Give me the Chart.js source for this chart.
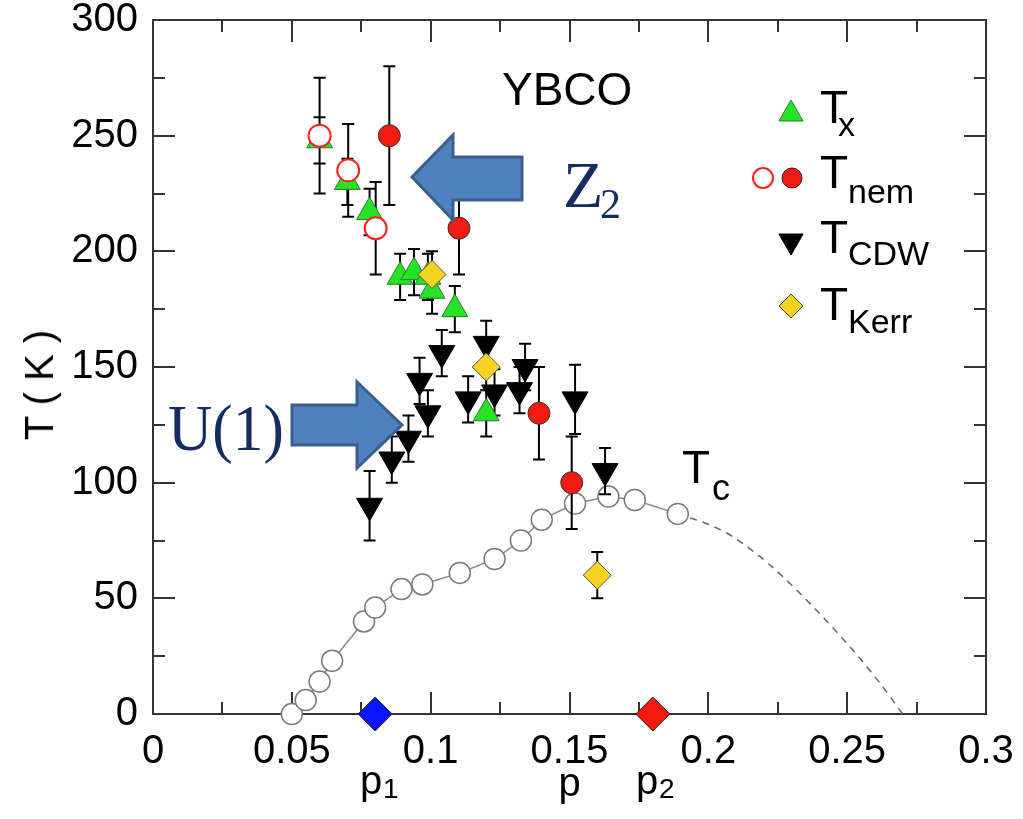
<!DOCTYPE html>
<html>
<head>
<meta charset="utf-8">
<script src="https://cdn.jsdelivr.net/npm/chart.js@4.4.1/dist/chart.umd.min.js"></script>
<style>
  body { margin: 0; background: #fff; }
  #wrap { position: relative; width: 1023px; height: 819px; }
  #grafico { position: absolute; left: 0; top: 0; }
  .txt { position: absolute; white-space: nowrap; line-height: 1; color: #000; font-family: "Liberation Sans", Arial, sans-serif; }
  .serif { font-family: "Liberation Serif", "Times New Roman", serif; color: #142c60; }
</style>
</head>
<body>
<div id="wrap">
  <canvas id="grafico" width="1023" height="819"></canvas>

  <div class="txt" style="left:39px;top:385px;font-size:40px;transform:translate(-50%,-50%) rotate(-90deg);">T ( K )</div>

  <div class="txt" style="left:502px;top:66px;font-size:46px;">YBCO</div>

  <div class="txt" style="left:820px;top:84px;font-size:46px;">T</div>
  <div class="txt" style="left:838px;top:107px;font-size:34px;">x</div>
  <div class="txt" style="left:820px;top:149px;font-size:46px;">T</div>
  <div class="txt" style="left:848px;top:174px;font-size:34px;">nem</div>
  <div class="txt" style="left:820px;top:214px;font-size:46px;">T</div>
  <div class="txt" style="left:848px;top:236px;font-size:34px;">CDW</div>
  <div class="txt" style="left:820px;top:281px;font-size:46px;">T</div>
  <div class="txt" style="left:848px;top:304px;font-size:34px;">Kerr</div>

  <div class="txt" style="left:682px;top:444px;font-size:46px;">T</div>
  <div class="txt" style="left:712px;top:470px;font-size:36px;">c</div>

  <div class="txt" style="left:360px;top:760px;font-size:40px;">p</div>
  <div class="txt" style="left:383px;top:775px;font-size:28px;">1</div>
  <div class="txt" style="left:636px;top:760px;font-size:40px;">p</div>
  <div class="txt" style="left:659px;top:775px;font-size:28px;">2</div>

  <div class="txt serif" style="left:563px;top:152px;font-size:66px;">Z</div>
  <div class="txt serif" style="left:600px;top:183px;font-size:42px;">2</div>
  <div class="txt serif" style="left:168px;top:395px;font-size:66px;transform:scaleX(0.93);transform-origin:left top;">U(1)</div>
</div>

<script>
// eixos
const xTickLabels = ['0', '0.05', '0.1', '0.15', '0.2', '0.25', '0.3'];
const yTickLabels = ['0', '50', '100', '150', '200', '250', '300'];
const xTickValues = [0, 0.025, 0.05, 0.075, 0.1, 0.125, 0.15, 0.175, 0.2, 0.225, 0.25, 0.275, 0.3];
const yTickValues = [0, 25, 50, 75, 100, 125, 150, 175, 200, 225, 250, 275, 300];

// Tc (linha continua) e extrapolacao tracejada
const tcP = [0.050, 0.055, 0.060, 0.0645, 0.076, 0.080, 0.0895, 0.097, 0.1105, 0.123, 0.1325, 0.140, 0.152, 0.164, 0.1735, 0.189];
const tcT = [0, 6, 14, 23, 40, 46, 54, 56, 61, 67, 75, 84, 91, 94, 92.5, 86.5];
const tcFitP = [0.189, 0.200, 0.209, 0.223, 0.238, 0.252, 0.262, 0.270];
const tcFitT = [86.5, 82, 76.5, 63.6, 46, 27.7, 13, 0];

// Tx
const txP = [0.060, 0.070, 0.078, 0.089, 0.094, 0.099, 0.1005, 0.1087, 0.120];
const txT = [248, 230, 217, 189, 191, 189, 183, 175, 130];
const txErr = [10, 10, 10, 10, 10, 10, 10, 10, 10];

// Tnem (abertos e cheios)
const nemOpenP = [0.060, 0.0703, 0.0802];
const nemOpenT = [250, 235, 210];
const nemOpenErr = [25, 20, 20];
const nemP = [0.0851, 0.1102, 0.139, 0.1508];
const nemT = [250, 210, 130, 100];
const nemErr = [30, 20, 20, 20];

// TCDW
const cdwP = [0.078, 0.086, 0.092, 0.099, 0.096, 0.104, 0.120, 0.1135, 0.123, 0.132, 0.134, 0.152, 0.1628];
const cdwT = [90, 110, 119, 130, 144, 156, 160, 136, 139, 140, 150, 136, 105];
const cdwErr = [15, 10, 10, 10, 10, 10, 10, 10, 10, 10, 10, 15, 10];

// TKerr
const kerrP = [0.1005, 0.120, 0.160];
const kerrT = [190, 150, 60];
const kerrErr = [10, 10, 10];

// p1, p2
const pCritP = [0.08, 0.18];
const pCritT = [0, 0];

const pontos = (xs, ys) => xs.map((x, i) => ({ x: x, y: ys[i] }));

const barrasErro = [
  { p: txP, t: txT, e: txErr },
  { p: nemOpenP, t: nemOpenT, e: nemOpenErr },
  { p: nemP, t: nemT, e: nemErr },
  { p: cdwP, t: cdwT, e: cdwErr },
  { p: kerrP, t: kerrT, e: kerrErr }
];

const fonte = "'Liberation Sans', Arial, sans-serif";

// moldura com ticks para dentro nos 4 lados
const molduraPlugin = {
  id: 'moldura',
  beforeDatasetsDraw(chart) {
    const { ctx, chartArea: a, scales: { x, y } } = chart;
    ctx.save();
    ctx.strokeStyle = '#333';
    ctx.lineWidth = 2;
    ctx.strokeRect(a.left, a.top, a.right - a.left, a.bottom - a.top);
    ctx.beginPath();
    xTickValues.forEach((v, i) => {
      const px = Math.round(x.getPixelForValue(v));
      const len = i % 2 === 0 ? 22 : 12;
      ctx.moveTo(px, a.bottom); ctx.lineTo(px, a.bottom - len);
      ctx.moveTo(px, a.top); ctx.lineTo(px, a.top + len);
    });
    yTickValues.forEach((v, i) => {
      const py = Math.round(y.getPixelForValue(v));
      const len = i % 2 === 0 ? 22 : 12;
      ctx.moveTo(a.left, py); ctx.lineTo(a.left + len, py);
      ctx.moveTo(a.right, py); ctx.lineTo(a.right - len, py);
    });
    ctx.stroke();
    ctx.restore();
  }
};

// barras de erro, desenhadas logo depois da curva de Tc
const erroPlugin = {
  id: 'erros',
  afterDatasetDraw(chart, args) {
    if (args.index !== 1) return;
    const { ctx, scales: { x, y } } = chart;
    ctx.save();
    ctx.strokeStyle = '#000';
    ctx.lineWidth = 2;
    ctx.beginPath();
    barrasErro.forEach(serie => {
      serie.p.forEach((p, i) => {
        const px = x.getPixelForValue(p);
        const y1 = y.getPixelForValue(serie.t[i] + serie.e[i]);
        const y2 = y.getPixelForValue(serie.t[i] - serie.e[i]);
        ctx.moveTo(px, y1); ctx.lineTo(px, y2);
        ctx.moveTo(px - 6, y1); ctx.lineTo(px + 6, y1);
        ctx.moveTo(px - 6, y2); ctx.lineTo(px + 6, y2);
      });
    });
    ctx.stroke();
    ctx.restore();
  }
};

function triangulo(ctx, cx, cy, r, paraBaixo) {
  const s = paraBaixo ? -1 : 1;
  ctx.beginPath();
  ctx.moveTo(cx, cy - s * r);
  ctx.lineTo(cx + r * 0.866, cy + s * r * 0.5);
  ctx.lineTo(cx - r * 0.866, cy + s * r * 0.5);
  ctx.closePath();
}

// setas e simbolos da legenda
const anotacoesPlugin = {
  id: 'anotacoes',
  afterDatasetsDraw(chart) {
    const ctx = chart.ctx;
    ctx.save();
    ctx.fillStyle = '#4f81bd';
    ctx.strokeStyle = '#3a5f8f';
    ctx.lineWidth = 3;
    ctx.lineJoin = 'miter';
    const setaZ2 = [[412, 177], [453, 135], [453, 157], [522, 157], [522, 200], [453, 200], [453, 220]];
    const setaU1 = [[292, 405], [357, 405], [357, 382], [402, 425], [357, 468], [357, 445], [292, 445]];
    [setaZ2, setaU1].forEach(seta => {
      ctx.beginPath();
      seta.forEach(([px, py], i) => i === 0 ? ctx.moveTo(px, py) : ctx.lineTo(px, py));
      ctx.closePath();
      ctx.fill();
      ctx.stroke();
    });

    ctx.lineWidth = 1;
    triangulo(ctx, 791, 114, 14, false);
    ctx.fillStyle = '#27e227'; ctx.strokeStyle = '#2d7a2d';
    ctx.fill(); ctx.stroke();

    ctx.beginPath(); ctx.arc(763, 178, 10, 0, Math.PI * 2);
    ctx.fillStyle = '#fff'; ctx.strokeStyle = '#ff2020'; ctx.lineWidth = 2;
    ctx.fill(); ctx.stroke();
    ctx.beginPath(); ctx.arc(792, 178, 10, 0, Math.PI * 2);
    ctx.fillStyle = '#f21c12'; ctx.strokeStyle = '#222'; ctx.lineWidth = 1;
    ctx.fill(); ctx.stroke();

    triangulo(ctx, 791, 241, 14, true);
    ctx.fillStyle = '#000'; ctx.strokeStyle = '#000';
    ctx.fill(); ctx.stroke();

    ctx.beginPath();
    ctx.moveTo(791, 294); ctx.lineTo(803, 306); ctx.lineTo(791, 318); ctx.lineTo(779, 306);
    ctx.closePath();
    ctx.fillStyle = '#f7d323'; ctx.strokeStyle = '#444';
    ctx.fill(); ctx.stroke();
    ctx.restore();
  }
};

const datasets = [
  {
    data: pontos(tcFitP, tcFitT), showLine: true, pointRadius: 0, tension: 0.3,
    borderColor: '#666', borderWidth: 1.5, borderDash: [7, 6], order: 8
  },
  {
    data: pontos(tcP, tcT), showLine: true, tension: 0,
    borderColor: '#888', borderWidth: 1.5,
    pointStyle: 'circle', pointRadius: 10.5, pointBackgroundColor: '#fff',
    pointBorderColor: '#7a7a7a', pointBorderWidth: 1.5, order: 7
  },
  {
    data: pontos(cdwP, cdwT), pointStyle: 'triangle', rotation: 180, pointRadius: 15,
    pointBackgroundColor: '#000', pointBorderColor: '#000', pointBorderWidth: 1, order: 6
  },
  {
    data: pontos(txP, txT), pointStyle: 'triangle', pointRadius: 15,
    pointBackgroundColor: '#27e227', pointBorderColor: '#2d7a2d', pointBorderWidth: 1, order: 5
  },
  {
    data: pontos(nemOpenP, nemOpenT), pointStyle: 'circle', pointRadius: 11,
    pointBackgroundColor: '#fff', pointBorderColor: '#ff2020', pointBorderWidth: 2, order: 4
  },
  {
    data: pontos(kerrP, kerrT), pointStyle: 'rectRot', pointRadius: 14,
    pointBackgroundColor: '#f7d323', pointBorderColor: '#555', pointBorderWidth: 1, order: 3
  },
  {
    data: pontos(nemP, nemT), pointStyle: 'circle', pointRadius: 11,
    pointBackgroundColor: '#f21c12', pointBorderColor: '#333', pointBorderWidth: 1, order: 2
  },
  {
    data: pontos(pCritP, pCritT), pointStyle: 'rectRot', pointRadius: 17,
    pointBackgroundColor: ['#0a14ff', '#f51a0f'], pointBorderColor: '#222', pointBorderWidth: 1, order: 1
  }
];
datasets.forEach(d => { d.clip = false; });

const grafico = new Chart(document.getElementById('grafico').getContext('2d'), {
  type: 'scatter',
  data: { datasets: datasets },
  options: {
    responsive: false,
    animation: false,
    devicePixelRatio: 1,
    layout: { padding: { top: 20, right: 37, bottom: 0, left: 0 } },
    plugins: { legend: { display: false }, tooltip: { enabled: false } },
    scales: {
      x: {
        type: 'linear', min: 0, max: 0.3,
        grid: { display: false, drawTicks: false },
        border: { display: false },
        ticks: {
          stepSize: 0.05, padding: 14, color: '#000', maxRotation: 0, autoSkip: false,
          font: { family: fonte, size: 40 },
          callback: (v, i) => xTickLabels[i]
        },
        title: { display: true, text: 'p', color: '#000', font: { family: fonte, size: 40 }, padding: { top: 0, bottom: 10 } },
        afterFit: s => { s.height = 105; s.paddingLeft = 0; s.paddingRight = 0; }
      },
      y: {
        type: 'linear', min: 0, max: 300,
        grid: { display: false, drawTicks: false },
        border: { display: false },
        ticks: {
          stepSize: 50, padding: 15, color: '#000',
          font: { family: fonte, size: 40 },
          callback: (v, i) => yTickLabels[i]
        },
        afterFit: s => { s.width = 153; s.paddingTop = 0; s.paddingBottom = 0; }
      }
    }
  },
  plugins: [molduraPlugin, erroPlugin, anotacoesPlugin]
});
</script>
</body>
</html>
